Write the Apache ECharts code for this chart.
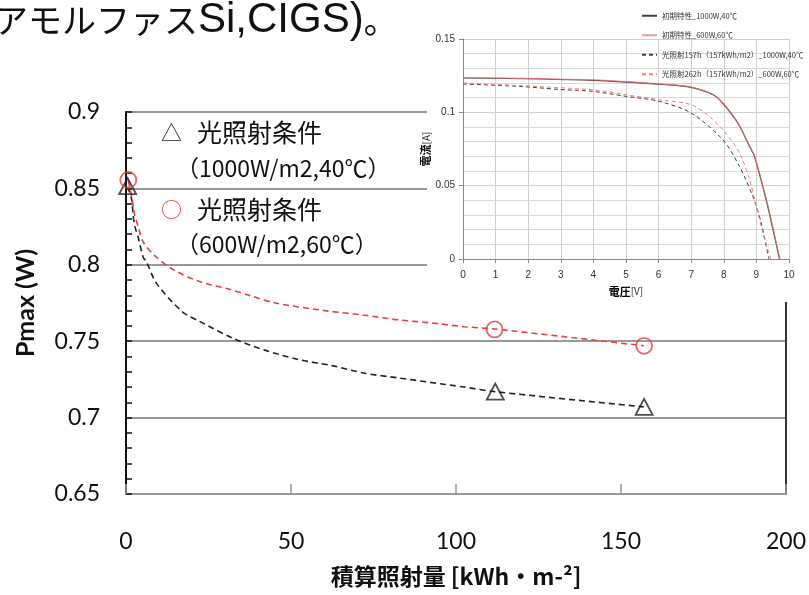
<!DOCTYPE html>
<html><head><meta charset="utf-8">
<script src="https://cdn.jsdelivr.net/npm/echarts@6/dist/echarts.min.js"></script>
<style>html,body{margin:0;padding:0;background:#fff}#c{width:809px;height:595px}</style>
</head><body><div id="c"></div>
<script>
// ---- main chart: Pmax vs integrated irradiation ----
const xTicks = [0, 50, 100, 150, 200];
const yTicks = [0.65, 0.7, 0.75, 0.8, 0.85, 0.9];
// 1000W/m2, 40C curve (black dashed)
const blackX = [0.5, 1.7, 2.2, 2.7, 3.7, 5.2, 6.2, 9.2, 17.2, 22.3, 32.3, 42.3, 52.3, 62.4, 72.4, 82.4, 92.4, 102.4, 111.7, 156.9];
const blackY = [0.851, 0.843, 0.8315, 0.825, 0.818, 0.805, 0.802, 0.788, 0.769, 0.763, 0.752, 0.744, 0.738, 0.734, 0.729, 0.726, 0.723, 0.720, 0.717, 0.707];
// 600W/m2, 60C curve (red dashed)
const redX = [0.7, 1.7, 2.7, 3.7, 5.2, 8.7, 14.2, 22.3, 31.3, 37.3, 45.3, 60.3, 72.4, 82.4, 92.4, 102.4, 111.7, 156.9];
const redY = [0.855, 0.845, 0.832, 0.825, 0.815, 0.806, 0.797, 0.789, 0.784, 0.780, 0.775, 0.770, 0.767, 0.764, 0.762, 0.7595, 0.758, 0.747];
// measured points
const triX = [0.5, 111.9, 157];
const triY = [0.8515, 0.717, 0.707];
const circX = [0.7, 111.7, 157];
const circY = [0.8555, 0.7577, 0.747];

// ---- inset: I-V curves ----
const init1000V = [0, 4.0, 6.24, 7.0, 7.67, 7.97, 8.43, 8.79, 8.94, 9.30, 9.51, 9.71];
const init1000I = [0.1234, 0.1218, 0.1188, 0.1170, 0.1120, 0.1062, 0.0927, 0.0768, 0.0700, 0.0404, 0.0200, 0];
const init600V = [0, 4.0, 6.24, 7.0, 7.67, 7.97, 8.43, 8.79, 8.94, 9.30, 9.51, 9.72];
const init600I = [0.1237, 0.1221, 0.1190, 0.1172, 0.1122, 0.1064, 0.0930, 0.0772, 0.0705, 0.0410, 0.0210, 0];
const irr157V = [0, 1.74, 2.96, 3.99, 5.0, 6.02, 7.0, 7.97, 8.48, 8.89, 9.15, 9.38];
const irr157I = [0.1193, 0.1177, 0.1156, 0.1143, 0.1109, 0.1075, 0.0995, 0.0813, 0.0631, 0.0427, 0.0245, 0];
const irr262V = [0, 4.0, 5.0, 6.02, 7.0, 7.55, 8.06, 8.48, 8.79, 9.0, 9.2, 9.44];
const irr262I = [0.1200, 0.1154, 0.1120, 0.1086, 0.1052, 0.0972, 0.0859, 0.0723, 0.0541, 0.0359, 0.0177, 0];
const insetNames = ['初期特性_1000W,40℃', '初期特性_600W,60℃', '光照射157h（157kWh/m2）_1000W,40℃', '光照射262h（157kWh/m2）_600W,60℃'];

const zip = (a, b) => a.map((v, i) => [v, b[i]]);
const JP = '"Noto Sans CJK JP", sans-serif';
const NUM = 'Lato, "Liberation Sans", sans-serif';

const chart = echarts.init(document.getElementById('c'), null, {renderer: 'canvas'});
chart.setOption({
  animation: false,
  backgroundColor: '#fff',
  grid: [
    {left: 126, right: 18, top: 112, bottom: 101},
    {left: 463, right: 20, top: 39, bottom: 336, z: 20}
  ],
  xAxis: [
    {type: 'value', gridIndex: 0, min: xTicks[0], max: xTicks[xTicks.length - 1], interval: 50,
     axisLine: {show: true, lineStyle: {color: '#999', width: 2}},
     axisTick: {show: true, inside: true, length: 10, lineStyle: {color: '#999', width: 1.5}},
     axisLabel: {fontSize: 23, fontFamily: NUM, color: '#111', margin: 36},
     splitLine: {show: false},
     name: '積算照射量 [kWh・m-²]', nameLocation: 'middle', nameGap: 71,
     nameTextStyle: {fontSize: 23, fontWeight: 'bold', fontFamily: JP, color: '#111'}},
    {type: 'value', gridIndex: 1, min: 0, max: 10, interval: 1, z: 20,
     axisLine: {show: true, lineStyle: {color: '#888', width: 1}},
     axisTick: {show: true, length: 4, lineStyle: {color: '#888'}},
     axisLabel: {fontSize: 10, color: '#333', margin: 11, fontFamily: '"Liberation Sans", sans-serif'},
     splitLine: {show: true, lineStyle: {color: '#d0d0d0', width: 1}},
     name: '{b|電圧}{n|[V]}', nameLocation: 'middle', nameGap: 27,
     nameTextStyle: {rich: {b: {fontSize: 11, fontWeight: 'bold', color: '#000', fontFamily: JP}, n: {fontSize: 10, color: '#333', fontFamily: JP}}}}
  ],
  yAxis: [
    {type: 'value', gridIndex: 0, min: yTicks[0], max: yTicks[yTicks.length - 1], interval: 0.05,
     axisLine: {show: true, lineStyle: {color: '#111', width: 2}},
     axisTick: {show: true, inside: true, length: 6, lineStyle: {color: '#111', width: 1.5}},
     minorTick: {show: true, splitNumber: 5, length: 6, lineStyle: {color: '#111', width: 1.5}},
     axisLabel: {fontSize: 23, fontFamily: NUM, color: '#111', margin: 26, formatter: v => String(+v.toFixed(2))},
     splitLine: {show: true, lineStyle: {color: '#999', width: 2}},
     name: 'Pmax (W)', nameLocation: 'middle', nameGap: 88,
     nameTextStyle: {fontSize: 25, fontWeight: 'bold', fontFamily: NUM, color: '#111'}},
    {type: 'value', gridIndex: 0, position: 'right', min: yTicks[0], max: yTicks[yTicks.length - 1], interval: 0.05,
     axisLine: {show: true, lineStyle: {color: '#333', width: 2}},
     axisTick: {show: false}, axisLabel: {show: false}, splitLine: {show: false}},
    {type: 'value', gridIndex: 1, min: 0, max: 0.15, interval: 0.05, z: 20,
     axisLine: {show: true, lineStyle: {color: '#888', width: 1}},
     axisTick: {show: true, length: 4, lineStyle: {color: '#888'}},
     minorTick: {show: false, splitNumber: 5},
     axisLabel: {fontSize: 10, color: '#333', margin: 8, fontFamily: '"Liberation Sans", sans-serif', formatter: v => String(+v.toFixed(2))},
     splitLine: {show: true, lineStyle: {color: '#d0d0d0', width: 1}},
     minorSplitLine: {show: true, lineStyle: {color: '#d8d8d8', width: 1}},
     name: '{b|電流}{n|[A]}', nameLocation: 'middle', nameGap: 12,
     nameTextStyle: {rich: {b: {fontSize: 11, fontWeight: 'bold', color: '#000', fontFamily: JP}, n: {fontSize: 10, color: '#333', fontFamily: JP}}}}
  ],
  legend: {
    data: insetNames, orient: 'vertical', left: 636, top: 7, z: 30,
    itemWidth: 15, itemHeight: 8, itemGap: 12,
    itemStyle: {opacity: 0},
    textStyle: {fontSize: 7.5, color: '#333', fontFamily: JP}
  },
  graphic: [
    {type: 'rect', left: 427, top: 0, z: 10, shape: {width: 390, height: 302}, style: {fill: '#fff'}},
    {type: 'text', left: -6, top: -1, z: 40, style: {
      text: '{k|アモルファス}{l|Si,CIGS)}{k|。}',
      rich: {k: {fontSize: 34, fontFamily: JP, fill: '#111'}, l: {fontSize: 42, fontFamily: 'Arial, "Liberation Sans", sans-serif', fill: '#111'}}}},
    {type: 'text', left: 161, top: 122, z: 5, style: {text: '△', fontSize: 21, fontFamily: JP, fill: '#222'}},
    {type: 'text', left: 197, top: 120, z: 5, style: {text: '光照射条件', fontSize: 25, fontFamily: JP, fill: '#111'}},
    {type: 'text', left: 176, top: 157, z: 5, style: {text: '（1000W/m2,40℃）', fontSize: 23, fontFamily: JP, fill: '#111'}},
    {type: 'text', left: 161, top: 199, z: 5, style: {text: '○', fontSize: 21, fontFamily: JP, fill: '#e83e3e'}},
    {type: 'text', left: 197, top: 197, z: 5, style: {text: '光照射条件', fontSize: 25, fontFamily: JP, fill: '#111'}},
    {type: 'text', left: 176, top: 233, z: 5, style: {text: '（600W/m2,60℃）', fontSize: 23, fontFamily: JP, fill: '#111'}}
  ],
  series: [
    {type: 'line', xAxisIndex: 0, yAxisIndex: 0, data: zip(blackX, blackY), showSymbol: false, symbol: 'none', smooth: 0.3, z: 2,
     lineStyle: {color: '#222', width: 1.6, type: [6, 4]}},
    {type: 'line', xAxisIndex: 0, yAxisIndex: 0, data: zip(redX, redY), showSymbol: false, symbol: 'none', smooth: 0.3, z: 2,
     lineStyle: {color: '#e83e3e', width: 1.6, type: [6, 4]}},
    {type: 'scatter', xAxisIndex: 0, yAxisIndex: 0, data: zip(triX, triY), symbol: 'triangle', symbolSize: [17, 16], z: 3,
     itemStyle: {color: 'rgba(255,255,255,0)', borderColor: '#222', borderWidth: 1.8}},
    {type: 'scatter', xAxisIndex: 0, yAxisIndex: 0, data: zip(circX, circY), symbol: 'circle', symbolSize: 16, z: 3,
     itemStyle: {color: 'rgba(255,255,255,0)', borderColor: '#e83e3e', borderWidth: 1.8}},
    {name: insetNames[0], type: 'line', xAxisIndex: 1, yAxisIndex: 2, data: zip(init1000V, init1000I), symbol: 'none', smooth: 0.3, z: 21,
     itemStyle: {color: '#404040'}, lineStyle: {color: '#404040', width: 1.2}},
    {name: insetNames[1], type: 'line', xAxisIndex: 1, yAxisIndex: 2, data: zip(init600V, init600I), symbol: 'none', smooth: 0.3, z: 22,
     itemStyle: {color: '#f07070'}, lineStyle: {color: '#f07070', width: 1.2, opacity: 0.75}},
    {name: insetNames[2], type: 'line', xAxisIndex: 1, yAxisIndex: 2, data: zip(irr157V, irr157I), symbol: 'none', smooth: 0.3, z: 21,
     itemStyle: {color: '#404040'}, lineStyle: {color: '#404040', width: 1, type: [4, 3]}},
    {name: insetNames[3], type: 'line', xAxisIndex: 1, yAxisIndex: 2, data: zip(irr262V, irr262I), symbol: 'none', smooth: 0.3, z: 21,
     itemStyle: {color: '#f08080'}, lineStyle: {color: '#f08080', width: 1, type: [4, 3]}}
  ]
});
</script></body></html>
